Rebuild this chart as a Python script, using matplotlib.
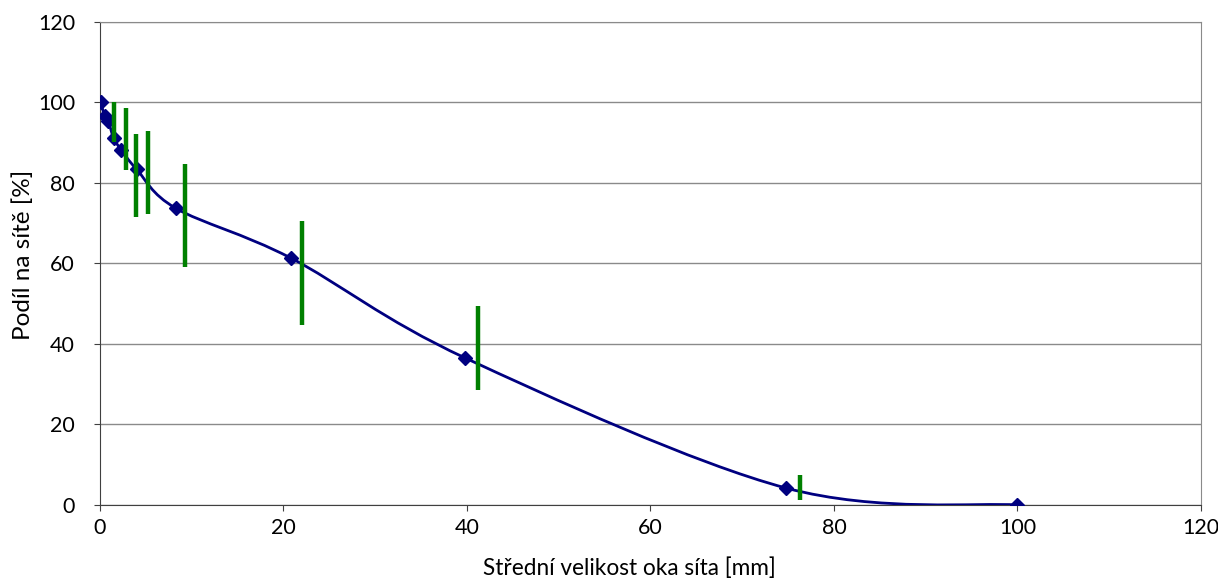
import matplotlib

matplotlib.use("Agg")
import matplotlib.pyplot as plt
from matplotlib.path import Path
from matplotlib.patches import PathPatch

plt.rcParams["font.family"] = ["Lato", "DejaVu Sans"]

# sieve data: mean mesh size [mm] vs share on sieve [%]
mesh_size = [0.1, 0.5, 0.9, 1.5, 2.3, 4.0, 8.3, 20.8, 39.8, 74.8, 100.0]
share = [100.0, 96.5, 95.3, 91.0, 88.2, 83.3, 73.6, 61.3, 36.5, 4.2, 0.0]

# green range bars
bar_x = [1.55, 2.85, 3.9, 5.2, 9.3, 22.0, 41.2, 76.3]
bar_low = [90.0, 83.2, 71.6, 72.3, 59.0, 44.7, 28.6, 1.2]
bar_high = [100.0, 98.6, 92.2, 92.8, 84.7, 70.4, 49.3, 7.4]

x_ticks = [0, 20, 40, 60, 80, 100, 120]
y_ticks = [0, 20, 40, 60, 80, 100, 120]


def smooth_path(xs, ys):
    """Excel-like smoothed line: cubic Bezier through every point."""
    pts = list(zip(xs, ys))
    verts = [pts[0]]
    codes = [Path.MOVETO]
    n = len(pts)
    for i in range(n - 1):
        p0 = pts[i - 1] if i > 0 else pts[i]
        p1 = pts[i]
        p2 = pts[i + 1]
        p3 = pts[i + 2] if i + 2 < n else pts[i + 1]
        c1 = (p1[0] + (p2[0] - p0[0]) / 6, p1[1] + (p2[1] - p0[1]) / 6)
        c2 = (p2[0] - (p3[0] - p1[0]) / 6, p2[1] - (p3[1] - p1[1]) / 6)
        verts += [c1, c2, p2]
        codes += [Path.CURVE4] * 3
    return Path(verts, codes)


fig = plt.figure(figsize=(12.18, 5.8), dpi=100)
ax = fig.add_axes([0.0821, 0.1293, 0.9039, 0.8336])

ax.set_xlim(0, 120)
ax.set_ylim(0, 120)
ax.set_xticks(x_ticks)
ax.set_yticks(y_ticks)
ax.tick_params(labelsize=15.5, length=4, direction="out", color="#404040")
ax.tick_params(axis="y", pad=14)
ax.tick_params(axis="x", pad=5)
ax.yaxis.grid(True, color="#8a8a8a", linewidth=1)
ax.set_axisbelow(True)

for side in ("top", "right"):
    ax.spines[side].set_color("#8a8a8a")
for side in ("left", "bottom"):
    ax.spines[side].set_color("#404040")

ax.add_patch(PathPatch(smooth_path(mesh_size, share), facecolor="none",
                       edgecolor="#000080", linewidth=2, zorder=3))
ax.plot(mesh_size, share, linestyle="none", marker="D", markersize=7,
        color="#000080", zorder=4)

ax.vlines(bar_x, bar_low, bar_high, colors="#008000", linewidth=3.2,
          capstyle="butt", zorder=5)

ax.set_xlabel("Střední velikost oka síta [mm]", fontsize=16.3, labelpad=14,
              x=0.481)
ax.set_ylabel("Podíl na sítě [%]", fontsize=17.5, labelpad=3, y=0.517)

fig.savefig("out.png", dpi=100)
plt.close(fig)
